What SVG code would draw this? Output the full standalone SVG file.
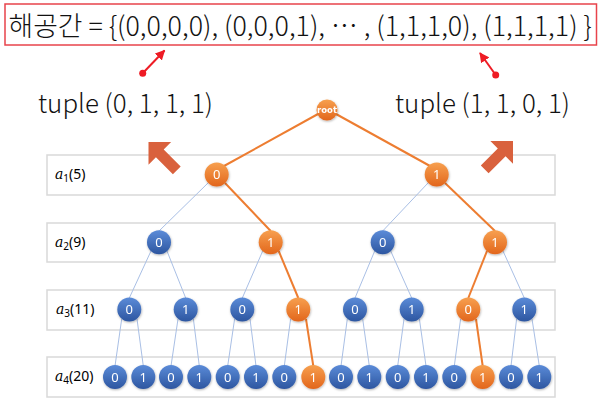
<svg xmlns="http://www.w3.org/2000/svg" width="602" height="405" viewBox="0 0 602 405">
<style>
.row{fill:#fff;stroke:#d9d9d9;stroke-width:1.5}
.eb{stroke:#a9bfe5;stroke-width:1;fill:none}
.eo{stroke:#ed7d31;stroke-width:2;fill:none}
.nb{fill:url(#gb)}
.no{fill:url(#go)}
.nt{font-family:"Noto Sans","DejaVu Sans",sans-serif;font-size:13px;fill:#fff;text-anchor:middle}
.lbl{font-family:"Noto Sans","DejaVu Sans",sans-serif;font-size:14px;fill:#000}
.tup{font-family:"Noto Sans CJK KR","Noto Sans",sans-serif;font-size:26px;font-weight:300;fill:#111}
.red{stroke:#ee1c25;stroke-width:2;fill:none}
.blk{fill:#d9613d}
</style>
<defs>
<linearGradient id="gb" x1="0" y1="0" x2="0" y2="1">
<stop offset="0" stop-color="#5b8bd8"/><stop offset="1" stop-color="#2d56a0"/>
</linearGradient>
<linearGradient id="go" x1="0" y1="0" x2="0" y2="1">
<stop offset="0" stop-color="#f7a04f"/><stop offset="1" stop-color="#e2661c"/>
</linearGradient>
<filter id="sh" x="-30%" y="-30%" width="160%" height="160%">
<feDropShadow dx="0.5" dy="1" stdDeviation="0.8" flood-color="#000" flood-opacity="0.3"/>
</filter>
<marker id="ah" viewBox="0 0 10 10" refX="9" refY="5" markerWidth="5" markerHeight="5" orient="auto" markerUnits="strokeWidth">
<path d="M0,0 L10,5 L0,10 z" fill="#ee1c25"/>
</marker>
<path id="barrow" d="M0,0 L16,-16 L16,-5.5 L40,-5.5 L40,5.5 L16,5.5 L16,16 z"/>
</defs>

<g id="title">
<rect x="5" y="4" width="591.5" height="41" fill="#fff" stroke="#e8434b" stroke-width="1.5"/>
<text x="8.5" y="36" font-family="'Noto Sans CJK KR','Noto Sans',sans-serif" font-size="26.8" font-weight="300" fill="#111">해공간 = {(0,0,0,0), (0,0,0,1), ⋯ , (1,1,1,0), (1,1,1,1) }</text>
</g>

<g id="pointers">
<circle cx="142.7" cy="73.3" r="3.5" fill="#ee1c25"/>
<line class="red" x1="142.7" y1="73.3" x2="164.5" y2="50.5" marker-end="url(#ah)"/>
<circle cx="495.7" cy="75" r="3.5" fill="#ee1c25"/>
<line class="red" x1="495.7" y1="75" x2="480" y2="53" marker-end="url(#ah)"/>
</g>

<g id="tuple-left"><text class="tup" x="38" y="113" textLength="175" lengthAdjust="spacingAndGlyphs">tuple (0, 1, 1, 1)</text></g>
<g id="tuple-right"><text class="tup" x="395" y="113" textLength="175" lengthAdjust="spacingAndGlyphs">tuple (1, 1, 0, 1)</text></g>

<g id="rows">
<g id="row1"><rect class="row" x="47" y="155" width="508" height="40"/>
<text class="lbl" x="55" y="179"><tspan font-family="'DejaVu Serif',serif" font-style="italic">a</tspan><tspan font-size="10" dy="3">1</tspan><tspan dy="-3">(5)</tspan></text></g>
<g id="row2"><rect class="row" x="47" y="223" width="508" height="39"/>
<text class="lbl" x="55" y="246.5"><tspan font-family="'DejaVu Serif',serif" font-style="italic">a</tspan><tspan font-size="10" dy="3">2</tspan><tspan dy="-3">(9)</tspan></text></g>
<g id="row3"><rect class="row" x="47" y="290" width="508" height="40"/>
<text class="lbl" x="56" y="314"><tspan font-family="'DejaVu Serif',serif" font-style="italic">a</tspan><tspan font-size="10" dy="3">3</tspan><tspan dy="-3">(11)</tspan></text></g>
<g id="row4"><rect class="row" x="47" y="357" width="508" height="40"/>
<text class="lbl" x="55" y="381"><tspan font-family="'DejaVu Serif',serif" font-style="italic">a</tspan><tspan font-size="10" dy="3">4</tspan><tspan dy="-3">(20)</tspan></text></g>
</g>

<g id="arrow-left"><use href="#barrow" class="blk" transform="translate(148.5,142) rotate(45)"/></g>
<g id="arrow-right"><use href="#barrow" class="blk" transform="translate(513,141) rotate(135)"/></g>

<g id="connectors">
<line class="eo" x1="318" y1="114" x2="224" y2="166"/>
<line class="eo" x1="336" y1="114" x2="430" y2="166"/>
<line class="eb" x1="208" y1="183" x2="159" y2="231"/>
<line class="eo" x1="225" y1="183" x2="270.7" y2="231"/>
<line class="eb" x1="428" y1="183" x2="382.7" y2="231"/>
<line class="eo" x1="445" y1="183" x2="495" y2="231"/>
<line class="eb" x1="151" y1="251" x2="129.3" y2="298"/>
<line class="eb" x1="167" y1="251" x2="185.7" y2="298"/>
<line class="eb" x1="262.7" y1="251" x2="242.3" y2="298"/>
<line class="eo" x1="278.7" y1="251" x2="298.3" y2="298"/>
<line class="eb" x1="374.7" y1="251" x2="355" y2="298"/>
<line class="eb" x1="390.7" y1="251" x2="411.7" y2="298"/>
<line class="eo" x1="487" y1="251" x2="468.3" y2="298"/>
<line class="eb" x1="503" y1="251" x2="524.3" y2="298"/>
<line class="eb" x1="121.7" y1="319" x2="115" y2="366"/>
<line class="eb" x1="137" y1="319" x2="143.3" y2="366"/>
<line class="eb" x1="178" y1="319" x2="171" y2="366"/>
<line class="eb" x1="193.4" y1="319" x2="199.3" y2="366"/>
<line class="eb" x1="234.6" y1="319" x2="227.7" y2="366"/>
<line class="eb" x1="250" y1="319" x2="256" y2="366"/>
<line class="eb" x1="290.6" y1="319" x2="284.3" y2="366"/>
<line class="eo" x1="306" y1="319" x2="313.3" y2="366"/>
<line class="eb" x1="347.3" y1="319" x2="341" y2="366"/>
<line class="eb" x1="362.7" y1="319" x2="369.3" y2="366"/>
<line class="eb" x1="404" y1="319" x2="397.7" y2="366"/>
<line class="eb" x1="419.4" y1="319" x2="426" y2="366"/>
<line class="eb" x1="460.6" y1="319" x2="454.3" y2="366"/>
<line class="eo" x1="476" y1="319" x2="482.7" y2="366"/>
<line class="eb" x1="516.6" y1="319" x2="511" y2="366"/>
<line class="eb" x1="532" y1="319" x2="539.3" y2="366"/>
</g>

<g id="nodes" filter="url(#sh)">
<g id="n-root"><circle class="no" cx="327" cy="110" r="10.5"/><text x="327" y="113" font-family="'DejaVu Sans',sans-serif" font-size="8.5" font-weight="bold" fill="#fff" text-anchor="middle">root</text></g>
<g id="n1-0"><circle class="no" cx="216.7" cy="174.5" r="12"/><text class="nt" x="216.7" y="179">0</text></g>
<g id="n1-1"><circle class="no" cx="436.7" cy="174.5" r="12"/><text class="nt" x="436.7" y="179">1</text></g>
<g id="n2-0"><circle class="nb" cx="159" cy="242.3" r="12"/><text class="nt" x="159" y="247">0</text></g>
<g id="n2-1"><circle class="no" cx="270.7" cy="242.3" r="12"/><text class="nt" x="270.7" y="247">1</text></g>
<g id="n2-2"><circle class="nb" cx="382.7" cy="242.3" r="12"/><text class="nt" x="382.7" y="247">0</text></g>
<g id="n2-3"><circle class="no" cx="495" cy="242.3" r="12"/><text class="nt" x="495" y="247">1</text></g>
<g id="n3-0"><circle class="nb" cx="129.3" cy="309.5" r="12"/><text class="nt" x="129.3" y="314">0</text></g>
<g id="n3-1"><circle class="nb" cx="185.7" cy="309.5" r="12"/><text class="nt" x="185.7" y="314">1</text></g>
<g id="n3-2"><circle class="nb" cx="242.3" cy="309.5" r="12"/><text class="nt" x="242.3" y="314">0</text></g>
<g id="n3-3"><circle class="no" cx="298.3" cy="309.5" r="12"/><text class="nt" x="298.3" y="314">1</text></g>
<g id="n3-4"><circle class="nb" cx="355" cy="309.5" r="12"/><text class="nt" x="355" y="314">0</text></g>
<g id="n3-5"><circle class="nb" cx="411.7" cy="309.5" r="12"/><text class="nt" x="411.7" y="314">1</text></g>
<g id="n3-6"><circle class="no" cx="468.3" cy="309.5" r="12"/><text class="nt" x="468.3" y="314">0</text></g>
<g id="n3-7"><circle class="nb" cx="524.3" cy="309.5" r="12"/><text class="nt" x="524.3" y="314">1</text></g>
<g id="n4-0"><circle class="nb" cx="115" cy="377" r="12"/><text class="nt" x="115" y="381.5">0</text></g>
<g id="n4-1"><circle class="nb" cx="143.3" cy="377" r="12"/><text class="nt" x="143.3" y="381.5">1</text></g>
<g id="n4-2"><circle class="nb" cx="171" cy="377" r="12"/><text class="nt" x="171" y="381.5">0</text></g>
<g id="n4-3"><circle class="nb" cx="199.3" cy="377" r="12"/><text class="nt" x="199.3" y="381.5">1</text></g>
<g id="n4-4"><circle class="nb" cx="227.7" cy="377" r="12"/><text class="nt" x="227.7" y="381.5">0</text></g>
<g id="n4-5"><circle class="nb" cx="256" cy="377" r="12"/><text class="nt" x="256" y="381.5">1</text></g>
<g id="n4-6"><circle class="nb" cx="284.3" cy="377" r="12"/><text class="nt" x="284.3" y="381.5">0</text></g>
<g id="n4-7"><circle class="no" cx="313.3" cy="377" r="12"/><text class="nt" x="313.3" y="381.5">1</text></g>
<g id="n4-8"><circle class="nb" cx="341" cy="377" r="12"/><text class="nt" x="341" y="381.5">0</text></g>
<g id="n4-9"><circle class="nb" cx="369.3" cy="377" r="12"/><text class="nt" x="369.3" y="381.5">1</text></g>
<g id="n4-10"><circle class="nb" cx="397.7" cy="377" r="12"/><text class="nt" x="397.7" y="381.5">0</text></g>
<g id="n4-11"><circle class="nb" cx="426" cy="377" r="12"/><text class="nt" x="426" y="381.5">1</text></g>
<g id="n4-12"><circle class="nb" cx="454.3" cy="377" r="12"/><text class="nt" x="454.3" y="381.5">0</text></g>
<g id="n4-13"><circle class="no" cx="482.7" cy="377" r="12"/><text class="nt" x="482.7" y="381.5">1</text></g>
<g id="n4-14"><circle class="nb" cx="511" cy="377" r="12"/><text class="nt" x="511" y="381.5">0</text></g>
<g id="n4-15"><circle class="nb" cx="539.3" cy="377" r="12"/><text class="nt" x="539.3" y="381.5">1</text></g>
</g>
</svg>
